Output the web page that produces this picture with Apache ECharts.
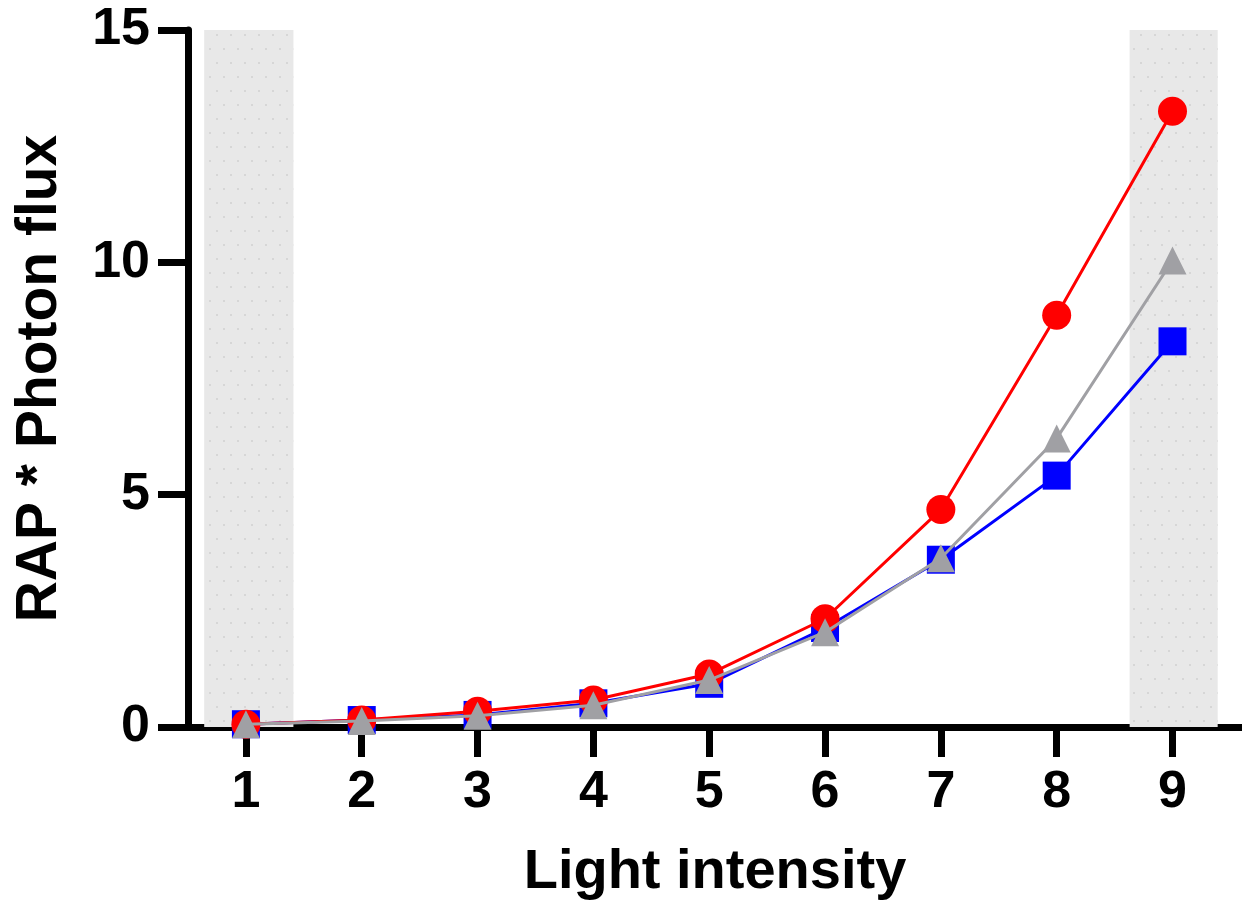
<!DOCTYPE html>
<html>
<head>
<meta charset="utf-8">
<script src="https://cdn.jsdelivr.net/npm/echarts@6/dist/echarts.min.js"></script>
<style>
html,body{margin:0;padding:0;background:#fff;}
#chart{width:1242px;height:907px;}
</style>
</head>
<body>
<div id="chart"></div>
<script>
// Data
var lightIntensity = [1, 2, 3, 4, 5, 6, 7, 8, 9];
var xTickValues = [1, 2, 3, 4, 5, 6, 7, 8, 9];
var yTickValues = [0, 5, 10, 15];
var redCircle = [0.06, 0.15, 0.34, 0.58, 1.14, 2.33, 4.68, 8.86, 13.25];
var blueSquare = [0.06, 0.15, 0.26, 0.51, 0.93, 2.13, 3.60, 5.41, 8.30];
var grayTriangle = [0.06, 0.13, 0.24, 0.47, 1.01, 2.04, 3.63, 6.21, 10.04];
var shadedBands = [[0.64, 1.41], [8.63, 9.39]];

function pairs(ys) { return lightIntensity.map(function (x, i) { return [x, ys[i]]; }); }

// dotted light-gray fill for the shaded bands
var pat = document.createElement('canvas');
pat.width = 14; pat.height = 28;
var pc = pat.getContext('2d');
pc.fillStyle = '#e8e8e8'; pc.fillRect(0, 0, 14, 28);
pc.fillStyle = '#d6d6d6';
pc.fillRect(6, 6, 2, 2);
pc.fillRect(13, 20, 1, 2); pc.fillRect(0, 20, 1, 2);

var font = '"Liberation Sans", Arial, Helvetica, sans-serif';
var chart = echarts.init(document.getElementById('chart'), null, {renderer: 'canvas'});
chart.setOption({
  animation: false,
  backgroundColor: '#ffffff',
  grid: {left: 188, right: 0, top: 30, bottom: 180, containLabel: false},
  xAxis: {
    type: 'value', min: 0.5, max: 9.6,
    name: 'Light intensity', nameLocation: 'middle', nameGap: 118,
    nameTextStyle: {fontFamily: font, fontWeight: 'bold', fontSize: 56, color: '#000'},
    axisLine: {show: true, onZero: false, lineStyle: {color: '#000', width: 7}},
    axisTick: {show: true, length: 30, lineStyle: {color: '#000', width: 7}, customValues: xTickValues},
    axisLabel: {fontFamily: font, fontWeight: 'bold', fontSize: 52, color: '#000', margin: 40, customValues: xTickValues},
    splitLine: {show: false}
  },
  yAxis: {
    type: 'value', min: 0, max: 15, interval: 5,
    name: 'RAP * Photon flux', nameLocation: 'middle', nameGap: 119, nameRotate: 90,
    nameTextStyle: {fontFamily: font, fontWeight: 'bold', fontSize: 57, color: '#000'},
    axisLine: {show: true, lineStyle: {color: '#000', width: 7}},
    axisTick: {show: true, length: 30, lineStyle: {color: '#000', width: 7}},
    axisLabel: {fontFamily: font, fontWeight: 'bold', fontSize: 52, color: '#000', margin: 38,
      formatter: function (v) { return yTickValues.indexOf(v) >= 0 ? String(v) : ''; }},
    splitLine: {show: false}
  },
  series: [
    {
      type: 'line', data: [], z: 1, silent: true,
      markArea: {
        silent: true,
        itemStyle: {color: {image: pat, repeat: 'repeat'}},
        data: shadedBands.map(function (b) { return [{xAxis: b[0], yAxis: 15}, {xAxis: b[1], yAxis: 0}]; })
      }
    },
    {
      type: 'line', data: pairs(blueSquare), z: 3,
      symbol: 'rect', symbolSize: 28, showAllSymbol: true,
      lineStyle: {color: '#0000ff', width: 3},
      itemStyle: {color: '#0000ff', borderWidth: 0}
    },
    {
      type: 'line', data: pairs(redCircle), z: 4,
      symbol: 'circle', symbolSize: 29, showAllSymbol: true,
      lineStyle: {color: '#ff0000', width: 3},
      itemStyle: {color: '#ff0000', borderWidth: 0}
    },
    {
      type: 'line', data: pairs(grayTriangle), z: 5,
      symbol: 'triangle', symbolSize: 28, showAllSymbol: true,
      lineStyle: {color: '#a0a0a4', width: 3},
      itemStyle: {color: '#a0a0a4', borderWidth: 0}
    }
  ]
});
</script>
</body>
</html>
